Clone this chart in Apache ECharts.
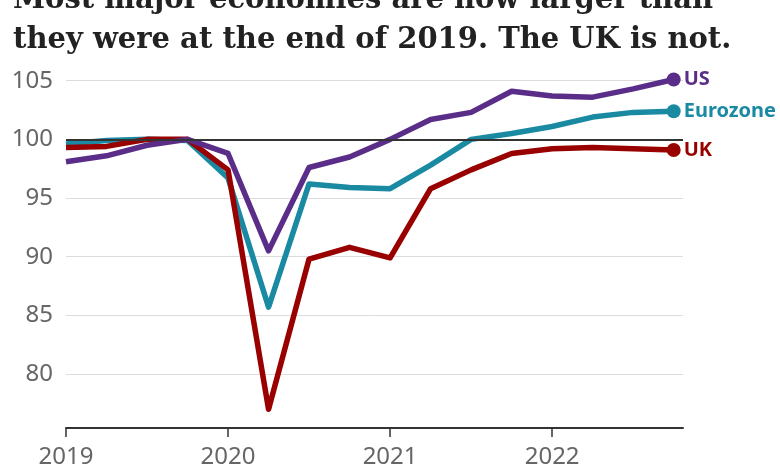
<!DOCTYPE html>
<html>
<head>
<meta charset="utf-8">
<script src="https://cdn.jsdelivr.net/npm/echarts@6/dist/echarts.min.js"></script>
<style>
html,body{margin:0;padding:0;background:#fff;}
#chart{width:780px;height:470px;}
</style>
</head>
<body>
<div id="chart"></div>
<script>
var titleLines = ['Most major economies are now larger than', 'they were at the end of 2019. The UK is not.'];
var quarters = ['2019 Q1','2019 Q2','2019 Q3','2019 Q4','2020 Q1','2020 Q2','2020 Q3','2020 Q4','2021 Q1','2021 Q2','2021 Q3','2021 Q4','2022 Q1','2022 Q2','2022 Q3','2022 Q4'];
var tickLabels = ['2019', '2020', '2021', '2022'];
var yTicks = [80, 85, 90, 95, 100, 105];
var usValues =       [98.1, 98.6, 99.5, 100.0, 98.8, 90.5, 97.6, 98.5, 100.0, 101.7, 102.3, 104.1, 103.7, 103.6, 104.3, 105.1];
var eurozoneValues = [99.6, 99.9, 100.0, 99.9, 96.7, 85.7, 96.2, 95.9, 95.8, 97.8, 100.0, 100.5, 101.1, 101.9, 102.3, 102.4];
var ukValues =       [99.3, 99.4, 100.0, 100.0, 97.4, 77.0, 89.8, 90.8, 89.9, 95.8, 97.4, 98.8, 99.2, 99.3, 99.2, 99.1];
var seriesNames = ['Eurozone', 'UK', 'US'];
var seriesColors = ['#1a8aa3', '#990000', '#5a2d88'];

var allValues = [eurozoneValues, ukValues, usValues];

function buildData(values, name, color) {
  return values.map(function (v, i) {
    if (i === values.length - 1) {
      return {
        value: [i, v],
        symbol: 'circle',
        symbolSize: 14,
        itemStyle: { color: color },
        label: {
          show: true, position: 'right', distance: 3,
          formatter: name, color: color,
          fontFamily: 'Noto Sans', fontWeight: 'bold', fontSize: 20
        }
      };
    }
    return { value: [i, v], symbol: 'none' };
  });
}

var series = [{
  type: 'line', data: [], silent: true,
  markLine: {
    silent: true, symbol: 'none', animation: false,
    label: { show: false },
    lineStyle: { color: '#333', width: 2, type: 'solid' },
    data: [{ yAxis: 100 }]
  }
}];
allValues.forEach(function (vals, k) {
  series.push({
    name: seriesNames[k],
    type: 'line',
    data: buildData(vals, seriesNames[k], seriesColors[k]),
    showSymbol: true,
    clip: false,
    lineStyle: { color: seriesColors[k], width: 5.5, join: 'round' },
    itemStyle: { color: seriesColors[k] },
    animation: false
  });
});

var chart = echarts.init(document.getElementById('chart'), null, { renderer: 'canvas' });
chart.setOption({
  backgroundColor: '#fff',
  animation: false,
  title: {
    text: titleLines.join('\n'),
    left: 8, top: -25,
    textStyle: {
      fontFamily: 'DejaVu Serif', fontWeight: 'bold', fontSize: 29,
      lineHeight: 40, color: '#222'
    }
  },
  grid: { left: 66, right: 97, top: 80.7, bottom: 42 },
  xAxis: {
    type: 'value', min: 0, max: 15.23, interval: 4,
    axisLine: { show: true, lineStyle: { color: '#333', width: 2 } },
    axisTick: { show: true, length: 9, lineStyle: { color: '#333', width: 1.5 }, customValues: [0, 4, 8, 12] },
    axisLabel: {
      customValues: [0, 4, 8, 12],
      formatter: function (v) { return tickLabels[Math.round(v / 4)]; },
      color: '#666', fontFamily: 'Noto Sans', fontSize: 24, margin: 17
    },
    splitLine: { show: false }
  },
  yAxis: {
    type: 'value', min: 75.4, max: 105, minInterval: 5, maxInterval: 5, splitNumber: 6,
    axisLine: { show: false }, axisTick: { show: false },
    axisLabel: {
      showMinLabel: false,
      color: '#666', fontFamily: 'Noto Sans', fontSize: 24, margin: 13,
      formatter: function (v) { return yTicks.indexOf(v) >= 0 ? String(v) : ''; }
    },
    splitLine: { show: true, lineStyle: { color: '#dcdcdc', width: 1 } }
  },
  series: series
});
</script>
</body>
</html>
